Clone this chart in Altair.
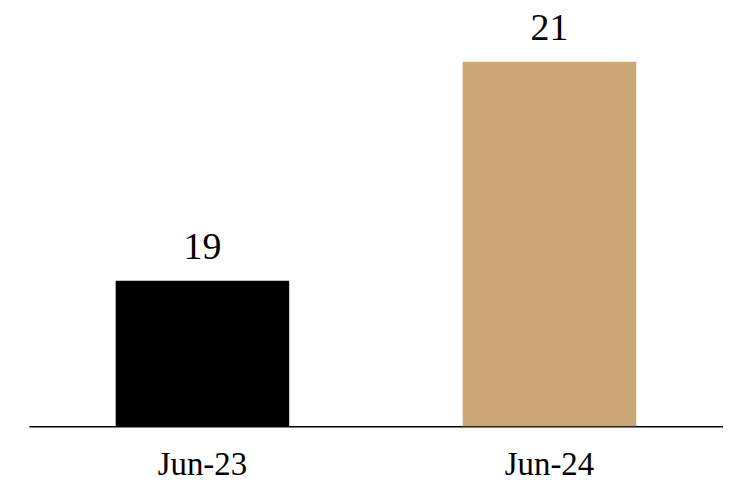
import altair as alt
import pandas as pd

categories = ["Jun-23", "Jun-24"]
values = [19, 21]
colors = ["#000000", "#CBA677"]

df = pd.DataFrame({"period": categories, "value": values, "color": colors})

FONT = "Liberation Serif"

base = alt.Chart(df).encode(
    x=alt.X(
        "period:N",
        sort=categories,
        scale=alt.Scale(paddingInner=0.5, paddingOuter=0.25),
        axis=alt.Axis(
            title=None, ticks=False, labelAngle=0, labelFont=FONT, labelFontSize=33,
            labelColor="#000000", labelBaseline="alphabetic", labelPadding=48,
            domainColor="#000000", domainWidth=1.5,
        ),
    ),
    y=alt.Y(
        "value:Q",
        scale=alt.Scale(domain=[17.673, 21.464], zero=False, clamp=True, nice=False),
        axis=None,
    ),
)

bars = base.mark_bar().encode(color=alt.Color("color:N", scale=None))
labels = base.mark_text(
    baseline="alphabetic", dy=-22, font=FONT, fontSize=38, color="#000000"
).encode(text=alt.Text("value:Q"))

chart = (
    (bars + labels)
    .properties(
        width=697, height=417,
        background="white",
        autosize=alt.AutoSizeParams(type="none"),
        padding={"left": 21, "top": 2, "right": 0, "bottom": 50},
    )
    .configure_view(strokeWidth=0, stroke=None)
)

chart.save("out.html", embed_options={"renderer": "svg", "actions": False})
